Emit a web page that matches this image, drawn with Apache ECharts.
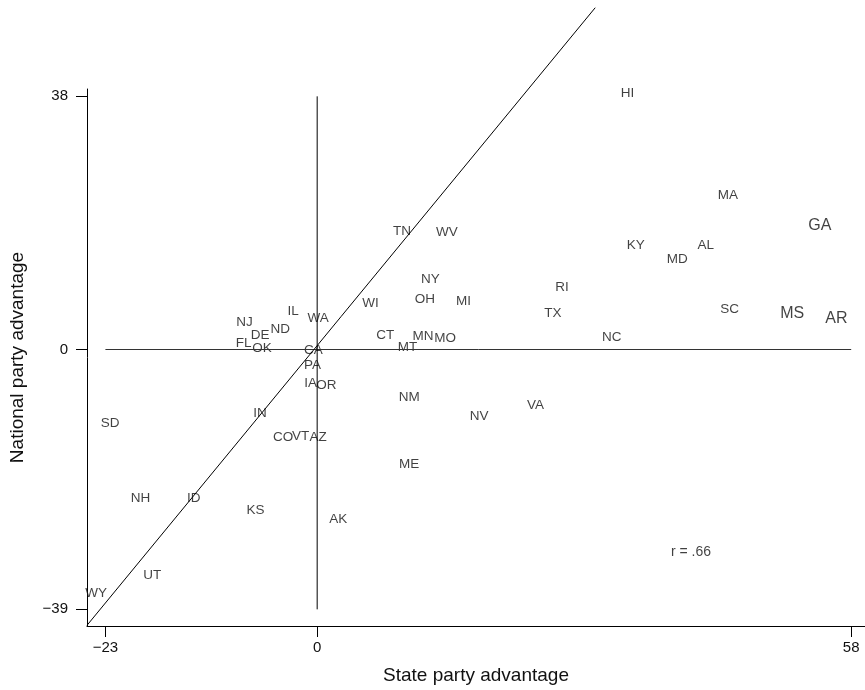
<!DOCTYPE html>
<html>
<head>
<meta charset="utf-8">
<script src="https://cdn.jsdelivr.net/npm/echarts@6/dist/echarts.min.js"></script>
<style>html,body{margin:0;padding:0;background:#fff}#c{width:865px;height:690px}</style>
</head>
<body>
<div id="c"></div>
<script>
const states = ['HI','MA','GA','KY','AL','MD','SC','MS','AR','NC','RI','TX','VA','TN','WV','NY','OH','MI','WI','CT','MT','MN','MO','NM','NV','ME','AK','IL','WA','NJ','ND','DE','FL','OK','CA','PA','IA','OR','IN','CO','VT','AZ','KS','SD','NH','ID','UT','WY'];
const stateAdv = [33.7,44.6,54.6,34.6,42.2,39.1,44.8,51.6,56.4,32.0,26.6,25.6,23.7,9.2,14.1,12.3,11.7,15.9,5.8,7.4,9.8,11.5,13.9,10.0,17.6,10.0,2.3,-2.6,0.1,-7.9,-4.0,-6.2,-8.0,-6.0,-0.4,-0.5,-0.7,1.0,-6.2,-3.7,-1.8,0.1,-6.7,-22.5,-19.2,-13.4,-17.9,-24.0];
const nationalAdv = [38.5,23.1,18.6,15.6,15.6,13.6,6.0,5.4,4.6,1.9,9.4,5.4,-8.4,17.8,17.6,10.5,7.5,7.3,7.0,2.2,0.3,2.0,1.7,-7.1,-10.0,-17.3,-25.5,5.8,4.7,4.1,3.1,2.2,1.0,0.2,-0.1,-2.4,-5.0,-5.4,-9.6,-13.2,-13.0,-13.1,-24.1,-11.0,-22.4,-22.4,-33.9,-36.6];
const bigLabels = ['GA','MS','AR'];
const xTicks = [-23, 0, 58];
const yTicks = [-39, 0, 38];
const fitLine = [[-25, -41.4], [30.2, 51.3]];
const hZero = [[-23, 0], [58, 0]];
const vZero = [[0, 38], [0, -39]];
const rNote = {text: 'r = .66', x: 40.6, y: -30.4};

const fam = '"Liberation Sans", Arial, Helvetica, sans-serif';
const ink = '#111';
const minus = v => String(v).replace('-', '\u2212');

const pts = states.map((s, i) => ({
  name: s,
  value: [stateAdv[i], nationalAdv[i]],
  label: {fontSize: bigLabels.includes(s) ? 16 : 13.5}
}));

const chart = echarts.init(document.getElementById('c'), null, {renderer: 'canvas'});
chart.setOption({
  animation: false,
  backgroundColor: '#fff',
  grid: {left: 85, top: 89, width: 780, height: 538, containLabel: false},
  xAxis: {
    type: 'value', min: -25, max: 59.5,
    name: 'State party advantage', nameLocation: 'middle', nameGap: 40,
    nameTextStyle: {fontFamily: fam, fontSize: 19, color: ink},
    axisLine: {show: true, onZero: false, lineStyle: {color: '#000', width: 1}},
    axisTick: {show: true, inside: false, length: 11, customValues: xTicks, lineStyle: {color: '#000'}},
    axisLabel: {show: true, customValues: xTicks, margin: 14, fontFamily: fam, fontSize: 15, color: ink, formatter: minus},
    splitLine: {show: false}
  },
  yAxis: {
    type: 'value', min: -41.5, max: 39.1,
    name: 'National party advantage', nameLocation: 'middle', nameGap: 60,
    nameTextStyle: {fontFamily: fam, fontSize: 19, color: ink},
    axisLine: {show: true, onZero: false, lineStyle: {color: '#000', width: 1}},
    axisTick: {show: true, inside: false, length: 11, customValues: yTicks, lineStyle: {color: '#000'}},
    axisLabel: {show: true, customValues: yTicks, margin: 19, fontFamily: fam, fontSize: 15, color: ink, formatter: minus},
    splitLine: {show: false}
  },
  series: [
    {type: 'line', data: hZero, symbol: 'none', lineStyle: {color: '#333', width: 1}, silent: true},
    {type: 'line', data: vZero, symbol: 'none', lineStyle: {color: '#000', width: 1}, silent: true},
    {type: 'line', data: fitLine, symbol: 'none', clip: false, lineStyle: {color: '#000', width: 1}, silent: true},
    {
      type: 'scatter', data: pts, symbolSize: 0, clip: false,
      label: {show: true, position: 'inside', formatter: p => p.name, fontFamily: fam, color: ink}
    },
    {
      type: 'scatter', data: [{name: rNote.text, value: [rNote.x, rNote.y]}], symbolSize: 0,
      label: {show: true, position: 'inside', formatter: p => p.name, fontFamily: fam, fontSize: 14, color: ink}
    }
  ]
});
</script>
</body>
</html>
